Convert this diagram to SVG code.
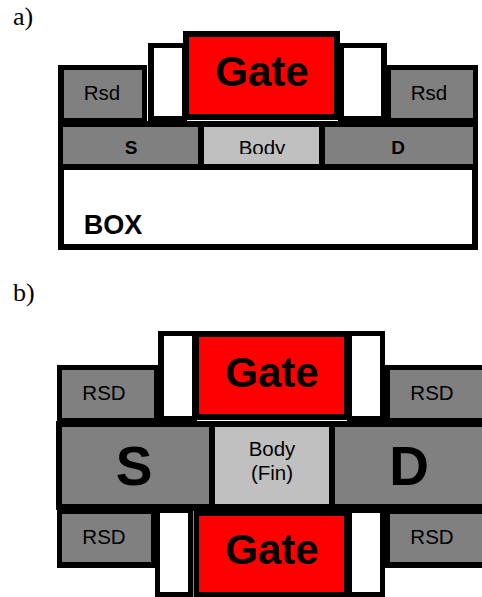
<svg xmlns="http://www.w3.org/2000/svg" width="482" height="597" viewBox="0 0 482 597">
<style>
.k{fill:#000}.g{fill:#808080}.l{fill:#c0c0c0}.r{fill:#f00}.w{fill:#fff}
text{font-family:"Liberation Sans",Arial,sans-serif;text-anchor:middle;fill:#000}
.b{font-weight:bold}
.t{font-family:"Liberation Serif","Times New Roman",serif;font-size:26px;text-anchor:start}
.n{font-size:20.5px}.gt{font-size:42px;font-weight:bold}
</style>
<defs><clipPath id="bodyclip"><rect x="204" y="127" width="115" height="27"/></clipPath></defs>
<rect class="w" width="482" height="597"/>
<text class="t" x="13" y="25">a)</text>
<text class="t" x="13" y="301">b)</text>
<g id="panel-a">
<g id="a-outline"><path class="k" d="M58 65H147V121H148V43H183V31H340V43H387V65H478V250H58Z"/><rect class="w" x="187" y="120" width="151" height="1"/></g>
<g id="a-gate"><rect class="r" x="189" y="37" width="145" height="77"/><text class="gt" x="262" y="86">Gate</text></g>
<g id="a-spacer-l"><rect class="w" x="154" y="48" width="28" height="68"/></g>
<g id="a-spacer-r"><rect class="w" x="344" y="48" width="37" height="68"/></g>
<g id="a-rsd-l"><rect class="g" x="64" y="70" width="78" height="48"/><text class="n" x="102" y="100">Rsd</text></g>
<g id="a-rsd-r"><rect class="g" x="391" y="70" width="82" height="48"/><text class="n" x="429" y="100">Rsd</text></g>
<g id="a-s"><rect class="g" x="63" y="127" width="135" height="37"/><text class="b" x="131" y="154" font-size="19">S</text></g>
<g id="a-body"><rect class="l" x="204" y="127" width="115" height="37"/><text class="n" x="262" y="155" clip-path="url(#bodyclip)">Body</text></g>
<g id="a-d"><rect class="g" x="325" y="127" width="148" height="37"/><text class="b" x="398" y="154" font-size="19">D</text></g>
<g id="a-box"><rect class="w" x="64" y="170" width="408" height="74"/><text class="b" x="113" y="234" font-size="27">BOX</text></g>
</g>
<g id="panel-b">
<g id="b-outline"><path class="k" d="M57 365H158V331H385V365H482V568H385V597H155V568H57V510H56V421H57Z"/><rect class="w" x="197" y="420" width="150" height="1"/><rect x="193" y="511" width="1" height="86" fill="#888"/></g>
<g id="b-gate-top"><rect class="r" x="199" y="337" width="145" height="77"/><text class="gt" x="272" y="387">Gate</text></g>
<g id="b-spacer-tl"><rect class="w" x="164" y="336" width="28" height="80"/></g>
<g id="b-spacer-tr"><rect class="w" x="352" y="336" width="28" height="80"/></g>
<g id="b-rsd-tl"><rect class="g" x="62" y="370" width="92" height="48"/><text class="n" x="104" y="400">RSD</text></g>
<g id="b-rsd-tr"><rect class="g" x="390" y="370" width="92" height="48"/><text class="n" x="432" y="400">RSD</text></g>
<g id="b-s"><rect class="g" x="62" y="427" width="147" height="77"/><text class="b" x="134" y="485" font-size="55">S</text></g>
<g id="b-body"><rect class="l" x="215" y="427" width="114" height="77"/><text class="n" x="272" y="456">Body</text><text class="n" x="272" y="480">(Fin)</text></g>
<g id="b-d"><rect class="g" x="335" y="427" width="147" height="77"/><text class="b" x="409" y="485" font-size="55">D</text></g>
<g id="b-rsd-bl"><rect class="g" x="62" y="514" width="89" height="48"/><text class="n" x="104" y="544">RSD</text></g>
<g id="b-rsd-br"><rect class="g" x="390" y="514" width="92" height="48"/><text class="n" x="432" y="544">RSD</text></g>
<g id="b-spacer-bl"><rect class="w" x="160" y="513" width="28" height="79"/></g>
<g id="b-spacer-br"><rect class="w" x="352" y="513" width="28" height="79"/></g>
<g id="b-gate-bottom"><rect class="r" x="199" y="516" width="145" height="76"/><text class="gt" x="272" y="564">Gate</text></g>
</g>
<g id="connectors"></g>
</svg>
